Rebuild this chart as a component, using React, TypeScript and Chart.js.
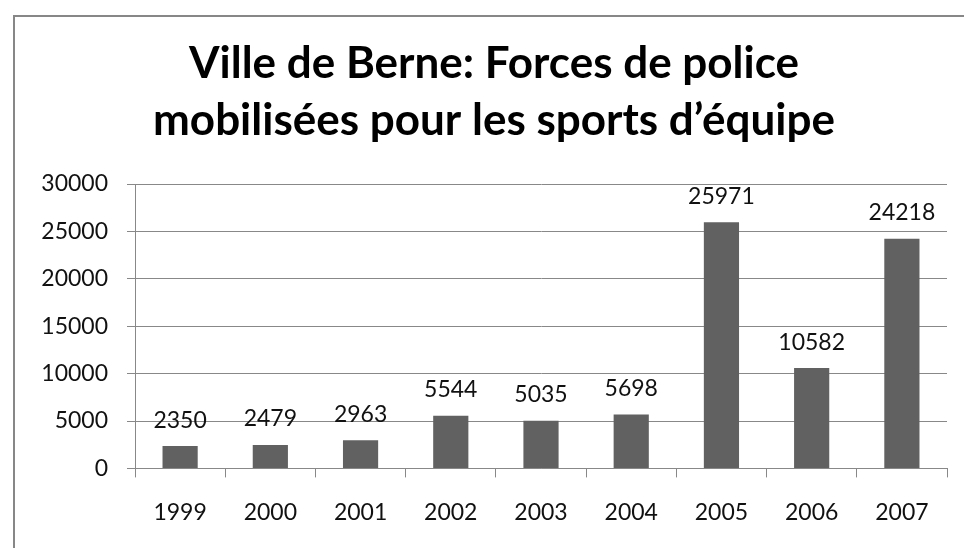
import React, { useEffect, useRef } from "react";
import { Chart, registerables } from "chart.js";

Chart.register(...registerables);

const titleLines = ["Ville de Berne: Forces de police", "mobilisées pour les sports d’équipe"];
const years = ["1999", "2000", "2001", "2002", "2003", "2004", "2005", "2006", "2007"];
const officers = [2350, 2479, 2963, 5544, 5035, 5698, 25971, 10582, 24218];
const yMin = 0;
const yMax = 30000;
const yStep = 5000;

const FONT = "Lato, Carlito, Calibri, 'Open Sans', sans-serif";

const frameBorder = {
  id: "frameBorder",
  beforeDraw(chart: any) {
    const { ctx, width, height } = chart;
    ctx.save();
    ctx.fillStyle = "#ffffff";
    ctx.fillRect(0, 0, width, height);
    ctx.strokeStyle = "#878787";
    ctx.lineWidth = 2;
    ctx.beginPath();
    ctx.moveTo(14, height + 2);
    ctx.lineTo(14, 16);
    ctx.lineTo(width + 2, 16);
    ctx.stroke();
    ctx.restore();
  },
};

const valueLabels = {
  id: "valueLabels",
  afterDatasetsDraw(chart: any) {
    const { ctx } = chart;
    ctx.save();
    ctx.font = `23px ${FONT}`;
    ctx.fillStyle = "#111111";
    ctx.textAlign = "center";
    ctx.textBaseline = "middle";
    chart.data.datasets.forEach((ds: any, di: number) => {
      const meta = chart.getDatasetMeta(di);
      meta.data.forEach((el: any, i: number) => {
        ctx.fillText(String(ds.data[i]), el.x, el.y - 26);
      });
    });
    ctx.restore();
  },
};

export default function App() {
  const ref = useRef<HTMLCanvasElement | null>(null);
  useEffect(() => {
    if (!ref.current) return;
    const chart = new Chart(ref.current, {
      type: "bar",
      data: {
        labels: years,
        datasets: [
          {
            label: "Forces de police",
            data: officers,
            backgroundColor: "#616161",
            borderWidth: 0,
            categoryPercentage: 1,
            barPercentage: 0.39,
          },
        ],
      },
      options: {
        animation: false,
        responsive: false,
        maintainAspectRatio: false,
        layout: { padding: { left: 41, right: 17, top: 0, bottom: 1 } },
        plugins: {
          legend: { display: false },
          tooltip: { enabled: false },
          title: {
            display: true,
            text: titleLines,
            color: "#000000",
            font: { family: FONT, size: 44, weight: "bold", lineHeight: 57 / 44 },
            padding: { top: 35, bottom: 35 },
          },
        },
        scales: {
          x: {
            grid: {
              display: true,
              offset: true,
              drawOnChartArea: false,
              drawTicks: true,
              tickLength: 9,
              color: "#888888",
            },
            border: { display: true, color: "#888888", width: 1 },
            ticks: {
              color: "#111111",
              font: { family: FONT, size: 23 },
              padding: 21,
              maxRotation: 0,
            },
          },
          y: {
            min: yMin,
            max: yMax,
            afterFit: (scale: any) => {
              scale.width = 94;
            },
            ticks: {
              stepSize: yStep,
              color: "#111111",
              font: { family: FONT, size: 23 },
              padding: 19,
              callback: (v: any) => String(v),
            },
            grid: { color: "#888888", tickLength: 8, lineWidth: 1 },
            border: { display: true, color: "#888888", width: 1 },
          },
        },
      },
      plugins: [frameBorder, valueLabels],
    });
    return () => chart.destroy();
  }, []);
  return (
    <div style={{ position: "absolute", left: 0, top: 0, width: 964, height: 548, overflow: "hidden" }}>
      <canvas ref={ref} width={964} height={548} style={{ display: "block", width: 964, height: 548 }} />
    </div>
  );
}
